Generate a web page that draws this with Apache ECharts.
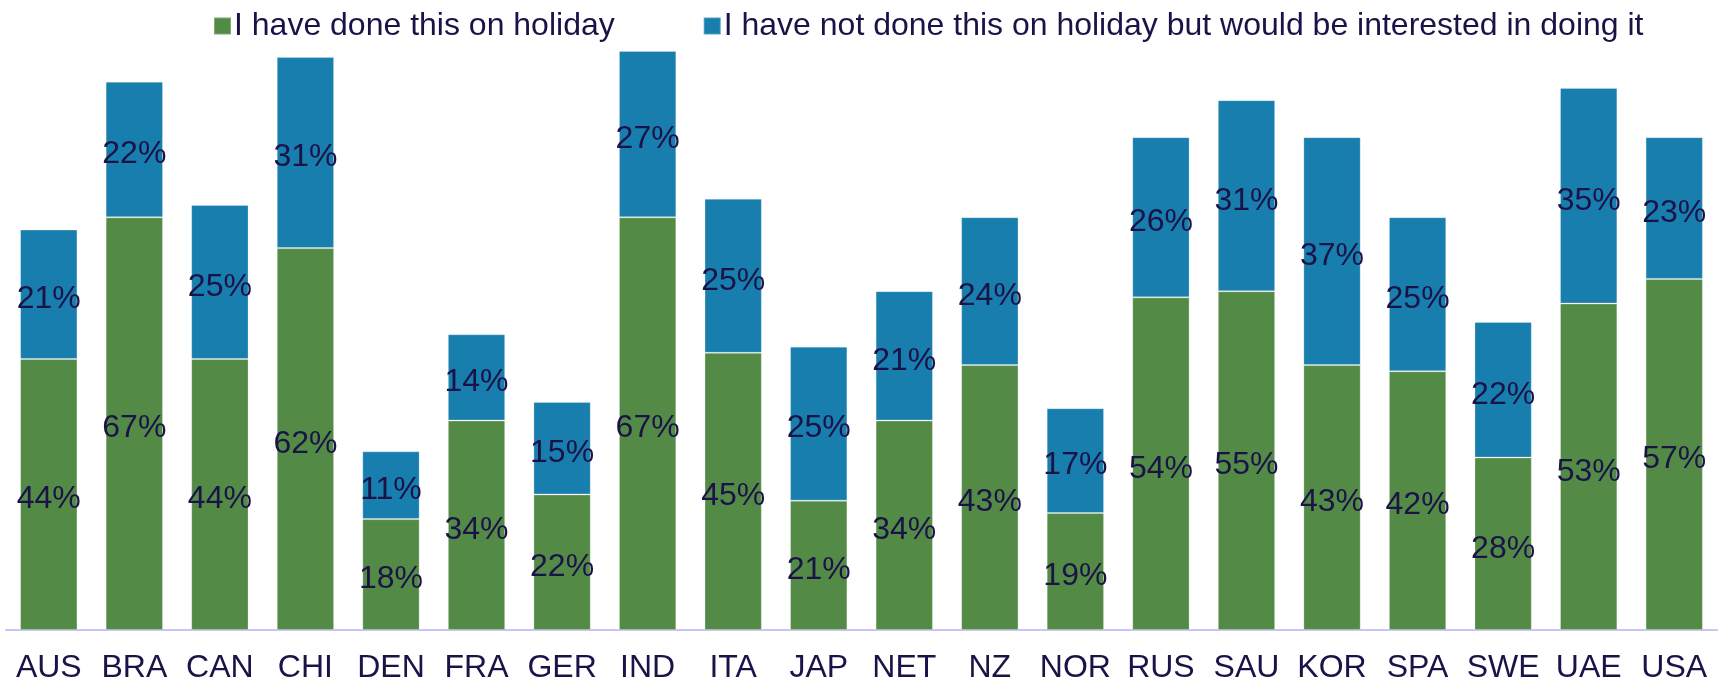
<!DOCTYPE html>
<html>
<head>
<meta charset="utf-8">
<script src="https://cdn.jsdelivr.net/npm/echarts@6/dist/echarts.min.js"></script>
<style>
  html, body { margin: 0; padding: 0; background: #fff; }
  #chart { width: 1723px; height: 681px; }
</style>
</head>
<body>
<div id="chart"></div>
<script>
  // data
  const countries = ['AUS', 'BRA', 'CAN', 'CHI', 'DEN', 'FRA', 'GER', 'IND', 'ITA', 'JAP',
                     'NET', 'NZ', 'NOR', 'RUS', 'SAU', 'KOR', 'SPA', 'SWE', 'UAE', 'USA']
  const doneValues = [44, 67, 44, 62, 18, 34, 22, 67, 45, 21, 34, 43, 19, 54, 55, 43, 42, 28, 53, 57]
  const interestedValues = [21, 22, 25, 31, 11, 14, 15, 27, 25, 25, 21, 24, 17, 26, 31, 37, 25, 22, 35, 23]
  const seriesNames = [
    'I have done this on holiday',
    'I have not done this on holiday but would be interested in doing it'
  ]

  const textColor = '#1b1248'
  const font = '"Liberation Sans", Arial, sans-serif'

  const myChart = echarts.init(document.getElementById('chart'))

  const labelStyle = {
    show: true,
    position: 'inside',
    offset: [0, 5],
    color: textColor,
    fontSize: 32,
    fontFamily: font,
    formatter: p => p.value + '%'
  }

  const option = {
    animation: false,
    legend: {
      left: 208,
      top: 5,
      itemWidth: 17,
      itemHeight: 17,
      itemGap: 88,
      icon: 'rect',
      textStyle: { color: textColor, fontSize: 32, fontFamily: font, padding: [0, 0, 0, -2] },
      data: seriesNames
    },
    grid: {
      left: 6,
      right: 6,
      top: 14,
      bottom: 51,
      outerBoundsMode: 'none'
    },
    xAxis: {
      type: 'category',
      data: countries,
      axisLine: { lineStyle: { color: '#cbc3f2', width: 2 } },
      axisTick: { show: false },
      axisLabel: { color: textColor, fontSize: 32, fontFamily: font, margin: 22, interval: 0 }
    },
    yAxis: {
      type: 'value',
      min: 0,
      max: 100,
      show: false,
      splitLine: { show: false }
    },
    series: [
      {
        name: seriesNames[0],
        type: 'bar',
        stack: 'total',
        barCategoryGap: '33%',
        data: doneValues,
        itemStyle: { color: '#538b46', borderColor: 'rgba(255,255,255,0.25)', borderWidth: 1 },
        label: labelStyle
      },
      {
        name: seriesNames[1],
        type: 'bar',
        stack: 'total',
        barCategoryGap: '33%',
        data: interestedValues,
        itemStyle: { color: '#177ead', borderColor: 'rgba(255,255,255,0.25)', borderWidth: 1 },
        label: labelStyle
      }
    ]
  }

  myChart.setOption(option)
</script>
</body>
</html>
